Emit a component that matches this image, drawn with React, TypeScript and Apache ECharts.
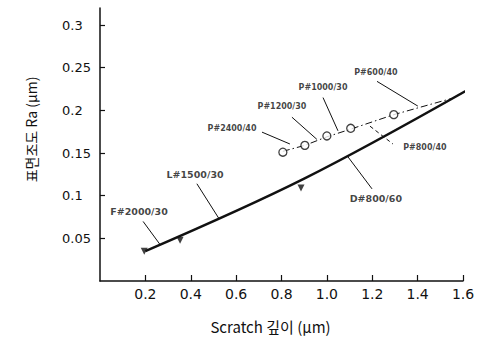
import React, { useEffect, useRef } from "react";
import * as echarts from "echarts";

const xTicks = [0.2, 0.4, 0.6, 0.8, 1.0, 1.2, 1.4, 1.6];
const yTicks = [0.05, 0.1, 0.15, 0.2, 0.25, 0.3];

// thick main curve
const mainX = [0.2, 0.9, 1.64];
const mainY = [0.035, 0.12, 0.227];

// filled down-triangles
const triX = [0.195, 0.353, 0.886];
const triY = [0.035, 0.0477, 0.109];

// open circles (P# samples)
const circX = [0.806, 0.903, 1.0, 1.105, 1.295];
const circY = [0.151, 0.159, 0.17, 0.179, 0.195];

// thin dash-dot line through circles
const thinX = [0.806, 0.903, 1.0, 1.105, 1.295, 1.55];
const thinY = [0.152, 0.159, 0.169, 0.178, 0.195, 0.214];

// annotations
const annLabels = ["P#600/40", "P#1000/30", "P#1200/30", "P#2400/40", "P#800/40", "D#800/60", "L#1500/30", "F#2000/30"];
const annX = [1.216, 0.983, 0.802, 0.582, 1.432, 1.216, 0.419, 0.172];
const annY = [0.244, 0.227, 0.205, 0.179, 0.157, 0.0966, 0.1245, 0.0815];
const leadFromX = [1.221, 0.983, 0.846, 0.714, 1.19, 1.093, 0.427, 0.19];
const leadFromY = [0.234, 0.215, 0.192, 0.1745, 0.1815, 0.1455, 0.114, 0.0698];
const leadToX = [1.401, 1.049, 0.956, 0.837, 1.291, 1.199, 0.524, 0.264];
const leadToY = [0.205, 0.176, 0.166, 0.1606, 0.1606, 0.108, 0.0733, 0.043];
const leadDashed = [false, false, false, false, true, false, false, false];

const zip = (a: number[], b: number[]) => a.map((v, i) => [v, b[i]]);

export default function App() {
  const ref = useRef<HTMLDivElement>(null);
  useEffect(() => {
    if (!ref.current) return;
    const chart = echarts.init(ref.current, null, { renderer: "svg" });
    const ink = "#111";
    const font = "DejaVu Sans";
    chart.setOption({
      animation: false,
      backgroundColor: "#fff",
      grid: { left: 100, right: 20, top: 8, bottom: 56, containLabel: false },
      xAxis: {
        type: "value",
        min: 0,
        max: 1.6,
        interval: 0.2,
        splitLine: { show: false },
        axisLine: { show: true, lineStyle: { color: ink, width: 1.5 } },
        axisTick: { show: true, inside: true, length: 6, customValues: xTicks, lineStyle: { color: ink, width: 1.2 } },
        axisLabel: {
          customValues: xTicks,
          formatter: (v: number) => v.toFixed(1),
          color: ink,
          fontFamily: font,
          fontSize: 14,
          margin: 6,
        },
        name: "Scratch 깊이 (μm)",
        nameLocation: "middle",
        nameGap: 38,
        nameTextStyle: { color: ink, fontFamily: "Noto Sans CJK KR", fontSize: 15, padding: [0, 22, 0, 0] },
      },
      yAxis: {
        type: "value",
        min: 0,
        max: 0.32,
        interval: 0.05,
        splitLine: { show: false },
        axisLine: { show: true, lineStyle: { color: ink, width: 1.5 } },
        axisTick: { show: true, inside: true, length: 5, customValues: yTicks, lineStyle: { color: ink, width: 1.2 } },
        axisLabel: {
          customValues: yTicks,
          color: ink,
          fontFamily: font,
          fontSize: 13,
          align: "left",
          margin: 38,
        },
        name: "표면조도 Ra (μm)",
        nameLocation: "middle",
        nameGap: 62,
        nameTextStyle: { color: ink, fontFamily: "Noto Sans CJK KR", fontSize: 14, padding: [0, 0, 0, 30] },
      },
      series: [
        {
          type: "line",
          data: zip(mainX, mainY),
          symbol: "none",
          smooth: 0.35,
          clip: false,
          lineStyle: { color: ink, width: 2.4 },
          silent: true,
        },
        {
          type: "line",
          data: zip(thinX, thinY),
          symbol: "none",
          lineStyle: { color: ink, width: 1, type: [7, 3, 1.5, 3] },
          silent: true,
        },
        {
          type: "scatter",
          data: zip(triX, triY),
          symbol: "triangle",
          symbolRotate: 180,
          symbolSize: 7,
          itemStyle: { color: ink },
          silent: true,
        },
        {
          type: "scatter",
          data: zip(circX, circY),
          symbol: "circle",
          symbolSize: 8,
          itemStyle: { color: "#fff", borderColor: ink, borderWidth: 1.3 },
          z: 5,
          silent: true,
        },
        {
          type: "scatter",
          data: annLabels.map((name, i) => ({
            name,
            value: [annX[i], annY[i]],
            label: { fontSize: name.startsWith("P") ? 8 : 9.5 },
          })),
          symbolSize: 0,
          silent: true,
          label: {
            show: true,
            position: "inside",
            formatter: (p: any) => p.name,
            color: ink,
            fontFamily: font,
            fontWeight: "bold",
            fontSize: 8,
          },
          markLine: {
            silent: true,
            symbol: ["none", "none"],
            label: { show: false },
            lineStyle: { color: ink, width: 1, type: "solid" },
            data: annLabels.map((_, i) => [
              {
                coord: [leadFromX[i], leadFromY[i]],
                lineStyle: { color: ink, width: 1, type: leadDashed[i] ? [4, 3] : "solid" },
              },
              { coord: [leadToX[i], leadToY[i]] },
            ]),
          },
        },
      ],
    });
    return () => chart.dispose();
  }, []);
  return <div ref={ref} style={{ width: 483, height: 339, position: "absolute", left: 0, top: 0 }} />;
}
